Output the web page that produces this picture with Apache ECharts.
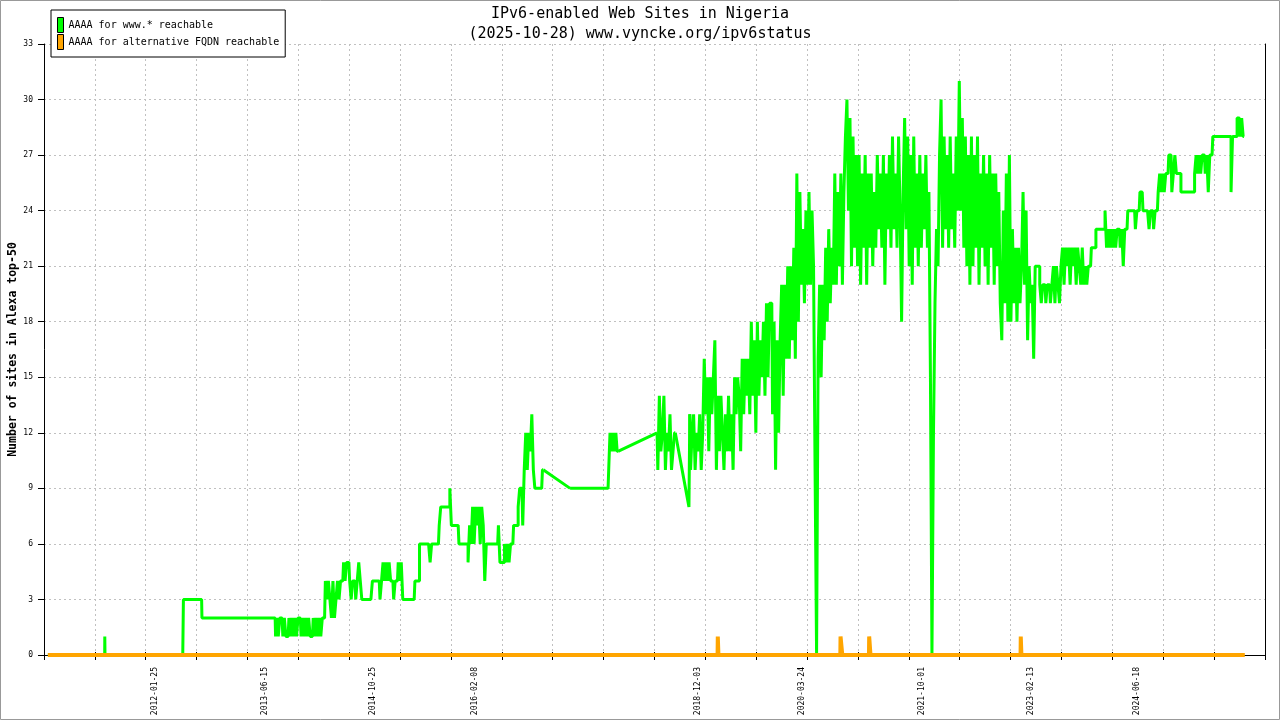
<!DOCTYPE html>
<html><head><meta charset="utf-8">
<script src="https://cdn.jsdelivr.net/npm/echarts@6/dist/echarts.min.js"></script>
<style>html,body{margin:0;padding:0;background:#fff}#c{width:1280px;height:720px}</style>
</head><body><div id="c"></div>
<script>
const titleLines = ['IPv6-enabled Web Sites in Nigeria', '(2025-10-28) www.vyncke.org/ipv6status'];
const yAxisName = 'Number of sites in Alexa top-50';
const seriesNames = ['AAAA for www.* reachable', 'AAAA for alternative FQDN reachable'];
const xLabelDates = ['2012-01-25','2013-06-15','2014-10-25','2016-02-08','2018-12-03','2020-03-24','2021-10-01','2023-02-13','2024-06-18'];
const xAxisStartDate = '2010-08-31';
const xTickStepDays = 234.58;
const xTickCount = 24;
const yMin = 0, yMax = 33, yStep = 3;

// green: www.* reachable
const greenEarly = [['2010-09-18',0],['2011-06-07',0],['2011-06-08',1],['2011-06-09',0],['2012-06-01',0],['2012-06-07',3],['2012-08-27',3],['2012-08-30',2],['2013-08-01',2]];
const greenWeeklyAStart = '2013-08-05';
const greenWeeklyA = [
 1,2,1,2,2,1,2,1,1,2,
 1,2,1,2,1,2,2,1,2,1,
 2,1,2,1,1,2,1,2,1,2,
 1,2,2,4,3,4,3,2,4,2,
 3,4,3,4,4,5,4,5,5,4,
 3,4,4,3,4,5,4,3,3,3,
 3,3,3,3,4,4,4,4,4,3,
 4,5,4,5,4,5,4,4,3,4,
 4,5,4,5,3,3,3,3,3,3,
 3,3,4,4,4,6,6,6,6,6,
 6,6,5,6,6,6,6,6,7,8,
 8,8,8,8,8,9,7,7,7,7,
 7,6,6,6,6,6,6,5,7,6,
 8,6,8,7,8,6,8,7,4,6,
 6,6,6,6,6,6,6,7,5,5,
 5,6,5,6,5,6,6,7,7,7,
 8,9,9,7,10,12,10,12,11,13,
 10,9,9,9,9,9,10];
const green2017 = [['2017-04-22',9],['2017-10-14',9],['2017-10-20',10],['2017-10-26',12],['2017-11-01',11],['2017-11-05',12],['2017-11-09',11],['2017-11-13',12],['2017-11-17',11],['2017-11-21',12],['2017-11-29',11]];
const greenWeeklyBStart = '2018-05-28';
const greenWeeklyB = [12,10,14,11,12,14,10,12,11,13,10,11,12];
const greenGap = [['2018-10-22',8]];
const greenWeeklyCStart = '2018-10-26';
const greenWeeklyC = [
 13,10,12,13,10,12,11,13,10,12,
 16,13,15,11,15,13,15,17,10,14,
 11,14,12,10,13,11,14,11,13,10,
 15,13,15,14,11,16,13,16,14,16,
 13,18,14,17,12,18,14,17,15,18,
 14,19,15,19,19,13,18,10,17,12,
 17,20,14,20,16,21,16,21,17,22,
 16,26,18,25,20,23,19,24,20,25,
 20,24,21,10,0,16,20,15,20,17,
 22,18,23,19,22,20,26,20,25,21,
 26,20,25,28,30,24,29,21,28,22,
 27,21,27,20,26,22,27,20,26,22,
 26,21,25,22,27,23,26,22,27,20,
 26,23,27,22,28,23,26,22,28,24,
 18,25,29,23,28,21,27,20,28,22,
 26,21,27,22,26,23,27,22,25,15,
 0,12,19,23,21,27,30,22,28,23,
 27,22,28,23,26,22,28,24,31,24,
 29,22,28,21,27,20,28,21,27,22,
 28,20,26,22,27,21,26,20,27,22,
 26,20,26,21,25,19,17,24,19,26,
 18,27,18,23,19,22,18,22,19,21,
 25,20,24,17,21,19,20,16,21,21,
 21,20,19,20,20,19,20,20,19,20,
 21,19,21,20,19,21,22,20,22,21,
 22,20,22,21,22,20,22,21,20,22,
 20,21,20,21,21,22,22,22,23,23,
 23,23,23,23,24,22,23,22,23,22,
 23,22,23,23,22,23,21,23,23,24,
 24,24,24,24,23,24,24,25,25,24,
 24,24,24,23,24,24,23,24,24,25,
 26,25,26,25,26,26,27,27,25,26,
 27,26,26,26,25,25,25,25,25,25,
 25,25,25,26,27,26,27,26,27,27,
 26,27,25,27,27,28,28,28,28,28,
 28,28,28,28,28,28,28,25,28,28,
 28,29,29,28,29,28];

// orange: alternative FQDN reachable
const orangePoints = [['2010-09-18',0],
 ['2019-03-03',0],['2019-03-04',1],['2019-03-06',1],['2019-03-07',0],
 ['2020-09-19',0],['2020-09-20',1],['2020-09-27',1],['2020-09-28',0],
 ['2021-01-29',0],['2021-01-30',1],['2021-02-04',1],['2021-02-05',0],
 ['2022-12-29',0],['2022-12-30',1],['2023-01-01',1],['2023-01-02',0],
 ['2025-10-28',0]];

const DAY = 86400000;
const toDay = s => Date.UTC(+s.slice(0,4), +s.slice(5,7)-1, +s.slice(8,10)) / DAY;
const fromDay = d => new Date(Math.round(d) * DAY).toISOString().slice(0,10);
const pts = arr => arr.map(p => [toDay(p[0]), p[1]]);
const weekly = (start, vals) => { const d0 = toDay(start); return vals.map((v,i) => [d0 + 7*i, v]); };

const segA = pts(greenEarly).concat(weekly(greenWeeklyAStart, greenWeeklyA));
const seg17 = pts(green2017);
const segB = weekly(greenWeeklyBStart, greenWeeklyB);
const segG = pts(greenGap);
const segC = weekly(greenWeeklyCStart, greenWeeklyC);
const last = a => a[a.length - 1];
// measured runs (drawn as steps) and the straight joins across data gaps
const greenRuns = [].concat(segA, [[null, null]], seg17, [[null, null]], segB, [[null, null]], segC);
const greenJoins = [last(segA), seg17[0], [null, null], last(seg17), segB[0], [null, null], last(segB)].concat(segG, [segC[0]]);
const orangeData = pts(orangePoints);

const xMin = toDay(xAxisStartDate) + 0.2;
const xMax = xMin + xTickCount * xTickStepDays;
const FONT = 'DejaVu Sans Mono';
const gridLine = {show:true, lineStyle:{color:'#c0c0c0', width:1, type:[2,3]}};
const GREEN = '#00ff00', ORANGE = '#ffa500';

const chart = echarts.init(document.getElementById('c'), null, {renderer:'canvas'});
chart.setOption({
  animation:false,
  backgroundColor:'#fff',
  title:{text:titleLines.join('\n'), left:'center', top:4, padding:0,
    textStyle:{fontFamily:FONT, fontSize:15, fontWeight:'normal', lineHeight:20, color:'#000'}},
  legend:{orient:'vertical', left:51, top:10, padding:[7,6,7,6], itemGap:1, itemWidth:6, itemHeight:15,
    icon:'rect', backgroundColor:'#fff', borderColor:'#000', borderWidth:1, borderRadius:0,
    itemStyle:{borderColor:'#000', borderWidth:1},
    textStyle:{fontFamily:FONT, fontSize:10, color:'#000'}, data:seriesNames, selectedMode:false},
  grid:{left:44, right:15, top:44, bottom:65, containLabel:false, outerBoundsMode:'none'},
  xAxis:[{type:'value', min:xMin, max:xMax, interval:xTickStepDays,
    axisLine:{show:true, onZero:false, lineStyle:{color:'#000', width:1}},
    axisTick:{show:true, length:5, lineStyle:{color:'#000'}},
    axisLabel:{customValues:xLabelDates.map(toDay), formatter:v => fromDay(v), rotate:90, margin:12,
      fontFamily:FONT, fontSize:8, color:'#000'},
    splitLine:gridLine},
   {type:'value', min:xMin, max:xMax, interval:xTickStepDays, position:'bottom',
    axisLine:{show:false}, axisTick:{show:true, inside:true, length:3, lineStyle:{color:'#000'}},
    axisLabel:{show:false}, splitLine:{show:false}}],
  yAxis:[{type:'value', min:yMin, max:yMax, interval:yStep,
    axisLine:{show:true, onZero:false, lineStyle:{color:'#000'}},
    axisTick:{show:true, length:6, lineStyle:{color:'#000'}},
    axisLabel:{fontFamily:FONT, fontSize:8, color:'#000', margin:11},
    splitLine:gridLine,
    name:yAxisName, nameLocation:'middle', nameGap:25, nameRotate:90, nameMoveOverlap:false,
    nameTextStyle:{fontFamily:FONT, fontWeight:'bold', fontSize:11.5, color:'#000'}},
   {type:'value', position:'right', min:yMin, max:yMax, interval:yStep,
    axisLine:{show:true, lineStyle:{color:'#000'}}, axisTick:{show:false}, axisLabel:{show:false}, splitLine:{show:false}}],
  series:[
    {name:seriesNames[0], type:'line', data:greenRuns, step:'middle', connectNulls:false, showSymbol:false, symbol:'none', z:2,
     lineStyle:{color:GREEN, width:3}, itemStyle:{color:GREEN}},
    {name:seriesNames[0], type:'line', data:greenJoins, connectNulls:false, showSymbol:false, symbol:'none', z:2,
     lineStyle:{color:GREEN, width:3}, itemStyle:{color:GREEN}},
    {name:seriesNames[1], type:'line', data:orangeData, showSymbol:false, symbol:'none', z:3,
     lineStyle:{color:ORANGE, width:4}, itemStyle:{color:ORANGE}}
  ],
  graphic:[{type:'rect', silent:true, z:100, shape:{x:0.5, y:0.5, width:1279, height:719},
    style:{fill:null, stroke:'#999', lineWidth:1}}]
});
</script></body></html>
